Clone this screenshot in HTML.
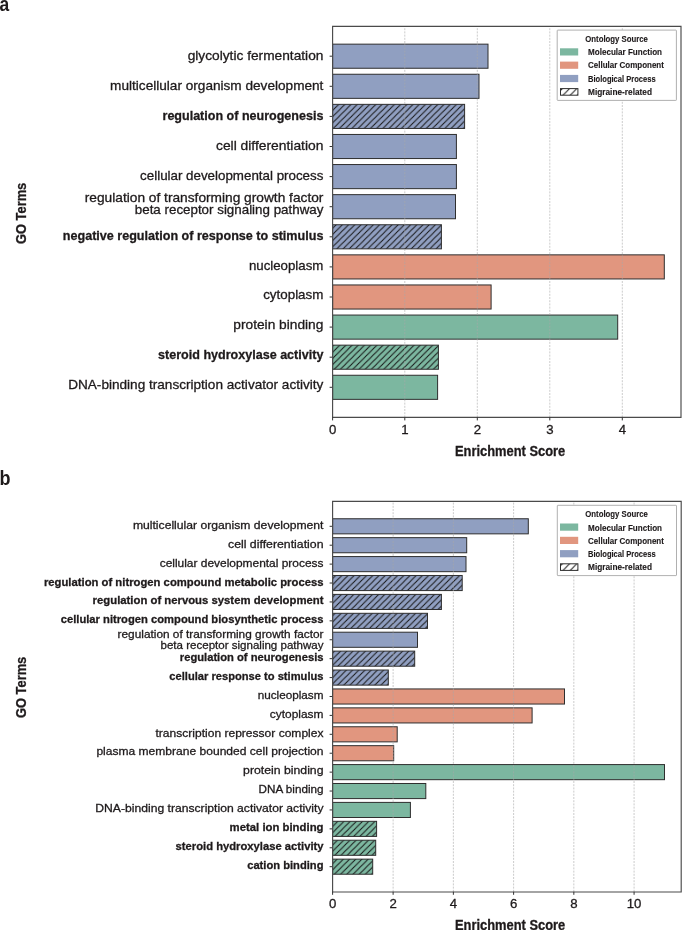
<!DOCTYPE html><html><head><meta charset="utf-8"><style>html,body{margin:0;padding:0;background:#fff;}svg{display:block;will-change:transform;}text{font-family:"Liberation Sans",sans-serif;fill:#1e1a1b;stroke:#1e1a1b;stroke-width:0.3px;}</style></head><body>
<svg width="685" height="930" viewBox="0 0 685 930">
<defs><pattern id="hatch" patternUnits="userSpaceOnUse" width="6.2" height="6.2" patternTransform="translate(2.9,0)"><path d="M-1,1 L1,-1 M0,6.2 L6.2,0 M5.2,7.2 L7.2,5.2" stroke="#141414" stroke-width="1.0"/></pattern><pattern id="hatchB" patternUnits="userSpaceOnUse" width="6.2" height="6.2" patternTransform="translate(5.9,0)"><path d="M-1,1 L1,-1 M0,6.2 L6.2,0 M5.2,7.2 L7.2,5.2" stroke="#141414" stroke-width="1.0"/></pattern><pattern id="hatchL" patternUnits="userSpaceOnUse" width="7.2" height="7.2" patternTransform="translate(3.0,0)"><path d="M-1,1 L1,-1 M0,7.2 L7.2,0 M6.2,8.2 L8.2,6.2" stroke="#1a1a1a" stroke-width="1.0"/></pattern></defs>
<rect width="685" height="930" fill="#fff"/>
<text x="0" y="0" font-size="20.5" font-weight="700" style="stroke-width:0" transform="translate(-0.5,10.6) scale(0.85,1)">a</text>
<text x="0" y="0" font-size="20.5" font-weight="700" style="stroke-width:0" transform="translate(-0.5,484.8) scale(0.88,1)">b</text>
<rect x="332.60" y="44.15" width="155.40" height="24.10" fill="rgb(144,159,193)" stroke="none"/>
<rect x="332.60" y="44.15" width="155.40" height="24.10" fill="none" stroke="#2e2e2e" stroke-width="1.0"/>
<line x1="329.60" y1="56.20" x2="332.60" y2="56.20" stroke="#333" stroke-width="1.0"/>
<rect x="332.60" y="74.25" width="146.40" height="24.10" fill="rgb(144,159,193)" stroke="none"/>
<rect x="332.60" y="74.25" width="146.40" height="24.10" fill="none" stroke="#2e2e2e" stroke-width="1.0"/>
<line x1="329.60" y1="86.30" x2="332.60" y2="86.30" stroke="#333" stroke-width="1.0"/>
<rect x="332.60" y="104.35" width="132.00" height="24.10" fill="rgb(144,159,193)" stroke="none"/>
<rect x="332.60" y="104.35" width="132.00" height="24.10" fill="url(#hatch)" stroke="none"/>
<rect x="332.60" y="104.35" width="132.00" height="24.10" fill="none" stroke="#2e2e2e" stroke-width="1.0"/>
<line x1="329.60" y1="116.40" x2="332.60" y2="116.40" stroke="#333" stroke-width="1.0"/>
<rect x="332.60" y="134.45" width="123.80" height="24.10" fill="rgb(144,159,193)" stroke="none"/>
<rect x="332.60" y="134.45" width="123.80" height="24.10" fill="none" stroke="#2e2e2e" stroke-width="1.0"/>
<line x1="329.60" y1="146.50" x2="332.60" y2="146.50" stroke="#333" stroke-width="1.0"/>
<rect x="332.60" y="164.55" width="123.80" height="24.10" fill="rgb(144,159,193)" stroke="none"/>
<rect x="332.60" y="164.55" width="123.80" height="24.10" fill="none" stroke="#2e2e2e" stroke-width="1.0"/>
<line x1="329.60" y1="176.60" x2="332.60" y2="176.60" stroke="#333" stroke-width="1.0"/>
<rect x="332.60" y="194.65" width="122.90" height="24.10" fill="rgb(144,159,193)" stroke="none"/>
<rect x="332.60" y="194.65" width="122.90" height="24.10" fill="none" stroke="#2e2e2e" stroke-width="1.0"/>
<line x1="329.60" y1="206.70" x2="332.60" y2="206.70" stroke="#333" stroke-width="1.0"/>
<rect x="332.60" y="224.75" width="108.80" height="24.10" fill="rgb(144,159,193)" stroke="none"/>
<rect x="332.60" y="224.75" width="108.80" height="24.10" fill="url(#hatch)" stroke="none"/>
<rect x="332.60" y="224.75" width="108.80" height="24.10" fill="none" stroke="#2e2e2e" stroke-width="1.0"/>
<line x1="329.60" y1="236.80" x2="332.60" y2="236.80" stroke="#333" stroke-width="1.0"/>
<rect x="332.60" y="254.85" width="331.70" height="24.10" fill="rgb(225,150,127)" stroke="none"/>
<rect x="332.60" y="254.85" width="331.70" height="24.10" fill="none" stroke="#2e2e2e" stroke-width="1.0"/>
<line x1="329.60" y1="266.90" x2="332.60" y2="266.90" stroke="#333" stroke-width="1.0"/>
<rect x="332.60" y="284.95" width="158.50" height="24.10" fill="rgb(225,150,127)" stroke="none"/>
<rect x="332.60" y="284.95" width="158.50" height="24.10" fill="none" stroke="#2e2e2e" stroke-width="1.0"/>
<line x1="329.60" y1="297.00" x2="332.60" y2="297.00" stroke="#333" stroke-width="1.0"/>
<rect x="332.60" y="315.05" width="285.10" height="24.10" fill="rgb(124,183,160)" stroke="none"/>
<rect x="332.60" y="315.05" width="285.10" height="24.10" fill="none" stroke="#2e2e2e" stroke-width="1.0"/>
<line x1="329.60" y1="327.10" x2="332.60" y2="327.10" stroke="#333" stroke-width="1.0"/>
<rect x="332.60" y="345.15" width="105.80" height="24.10" fill="rgb(124,183,160)" stroke="none"/>
<rect x="332.60" y="345.15" width="105.80" height="24.10" fill="url(#hatch)" stroke="none"/>
<rect x="332.60" y="345.15" width="105.80" height="24.10" fill="none" stroke="#2e2e2e" stroke-width="1.0"/>
<line x1="329.60" y1="357.20" x2="332.60" y2="357.20" stroke="#333" stroke-width="1.0"/>
<rect x="332.60" y="375.25" width="105.00" height="24.10" fill="rgb(124,183,160)" stroke="none"/>
<rect x="332.60" y="375.25" width="105.00" height="24.10" fill="none" stroke="#2e2e2e" stroke-width="1.0"/>
<line x1="329.60" y1="387.30" x2="332.60" y2="387.30" stroke="#333" stroke-width="1.0"/>
<line x1="404.80" y1="417.40" x2="404.80" y2="26.40" stroke="#a8a8a8" stroke-opacity="0.75" stroke-width="0.8" stroke-dasharray="2.0,1.2"/>
<line x1="477.30" y1="417.40" x2="477.30" y2="26.40" stroke="#a8a8a8" stroke-opacity="0.75" stroke-width="0.8" stroke-dasharray="2.0,1.2"/>
<line x1="549.80" y1="417.40" x2="549.80" y2="26.40" stroke="#a8a8a8" stroke-opacity="0.75" stroke-width="0.8" stroke-dasharray="2.0,1.2"/>
<line x1="622.30" y1="417.40" x2="622.30" y2="26.40" stroke="#a8a8a8" stroke-opacity="0.75" stroke-width="0.8" stroke-dasharray="2.0,1.2"/>
<path d="M332.60,26.40 H681.00 V417.40 H332.60 Z" fill="none" stroke="#4a4a4a" stroke-width="1.15" stroke-linejoin="miter"/>
<line x1="332.60" y1="417.40" x2="332.60" y2="420.40" stroke="#333" stroke-width="1.0"/>
<text x="332.60" y="433.80" font-size="13.2" font-weight="400" text-anchor="middle">0</text>
<line x1="404.80" y1="417.40" x2="404.80" y2="420.40" stroke="#333" stroke-width="1.0"/>
<text x="404.80" y="433.80" font-size="13.2" font-weight="400" text-anchor="middle">1</text>
<line x1="477.30" y1="417.40" x2="477.30" y2="420.40" stroke="#333" stroke-width="1.0"/>
<text x="477.30" y="433.80" font-size="13.2" font-weight="400" text-anchor="middle">2</text>
<line x1="549.80" y1="417.40" x2="549.80" y2="420.40" stroke="#333" stroke-width="1.0"/>
<text x="549.80" y="433.80" font-size="13.2" font-weight="400" text-anchor="middle">3</text>
<line x1="622.30" y1="417.40" x2="622.30" y2="420.40" stroke="#333" stroke-width="1.0"/>
<text x="622.30" y="433.80" font-size="13.2" font-weight="400" text-anchor="middle">4</text>
<text x="187.70" y="59.80" font-size="13.2" font-weight="400" text-anchor="start" textLength="135.7" lengthAdjust="spacingAndGlyphs">glycolytic fermentation</text>
<text x="110.10" y="89.76" font-size="13.2" font-weight="400" text-anchor="start" textLength="213.3" lengthAdjust="spacingAndGlyphs">multicellular organism development</text>
<text x="162.50" y="119.72" font-size="13.2" font-weight="700" text-anchor="start" textLength="160.9" lengthAdjust="spacingAndGlyphs">regulation of neurogenesis</text>
<text x="216.00" y="149.68" font-size="13.2" font-weight="400" text-anchor="start" textLength="107.4" lengthAdjust="spacingAndGlyphs">cell differentiation</text>
<text x="140.10" y="179.64" font-size="13.2" font-weight="400" text-anchor="start" textLength="183.3" lengthAdjust="spacingAndGlyphs">cellular developmental process</text>
<text x="84.80" y="201.70" font-size="13.2" font-weight="400" text-anchor="start" textLength="238.6" lengthAdjust="spacingAndGlyphs">regulation of transforming growth factor</text>
<text x="134.80" y="213.70" font-size="13.2" font-weight="400" text-anchor="start" textLength="188.6" lengthAdjust="spacingAndGlyphs">beta receptor signaling pathway</text>
<text x="62.80" y="239.56" font-size="13.2" font-weight="700" text-anchor="start" textLength="260.6" lengthAdjust="spacingAndGlyphs">negative regulation of response to stimulus</text>
<text x="248.90" y="269.52" font-size="13.2" font-weight="400" text-anchor="start" textLength="74.5" lengthAdjust="spacingAndGlyphs">nucleoplasm</text>
<text x="263.20" y="299.48" font-size="13.2" font-weight="400" text-anchor="start" textLength="60.2" lengthAdjust="spacingAndGlyphs">cytoplasm</text>
<text x="233.30" y="329.44" font-size="13.2" font-weight="400" text-anchor="start" textLength="90.1" lengthAdjust="spacingAndGlyphs">protein binding</text>
<text x="158.10" y="359.40" font-size="13.2" font-weight="700" text-anchor="start" textLength="165.3" lengthAdjust="spacingAndGlyphs">steroid hydroxylase activity</text>
<text x="68.20" y="389.36" font-size="13.2" font-weight="400" text-anchor="start" textLength="255.2" lengthAdjust="spacingAndGlyphs">DNA-binding transcription activator activity</text>
<text x="455.00" y="455.50" font-size="14" font-weight="700" text-anchor="start" textLength="110.2" lengthAdjust="spacingAndGlyphs">Enrichment Score</text>
<text x="0" y="0" font-size="14" font-weight="700" text-anchor="middle" textLength="61.3" lengthAdjust="spacingAndGlyphs" transform="translate(25.6,213.4) rotate(-90)">GO Terms</text>
<rect x="557.20" y="30.10" width="119.2" height="70.3" rx="0.6" fill="#fff" stroke="#9c9c9c" stroke-width="0.8"/>
<text x="585.30" y="42.00" font-size="8.6" font-weight="700" text-anchor="start" textLength="62.6" lengthAdjust="spacingAndGlyphs" style="stroke-width:0.12px">Ontology Source</text>
<rect x="560" y="48.30" width="18.2" height="7.2" fill="rgb(124,183,160)"/>
<text x="588.00" y="55.30" font-size="8.6" font-weight="700" text-anchor="start" textLength="74.0" lengthAdjust="spacingAndGlyphs" style="stroke-width:0.12px">Molecular Function</text>
<rect x="560" y="61.60" width="18.2" height="7.2" fill="rgb(225,150,127)"/>
<text x="588.00" y="68.40" font-size="8.6" font-weight="700" text-anchor="start" textLength="75.9" lengthAdjust="spacingAndGlyphs" style="stroke-width:0.12px">Cellular Component</text>
<rect x="560" y="74.90" width="18.2" height="7.2" fill="rgb(144,159,193)"/>
<text x="588.00" y="81.50" font-size="8.6" font-weight="700" text-anchor="start" textLength="67.6" lengthAdjust="spacingAndGlyphs" style="stroke-width:0.12px">Biological Process</text>
<rect x="560.5" y="88.60" width="17.4" height="6.6" fill="url(#hatchL)" stroke="#2e2e2e" stroke-width="1"/>
<text x="588.00" y="94.60" font-size="8.6" font-weight="700" text-anchor="start" textLength="64.0" lengthAdjust="spacingAndGlyphs" style="stroke-width:0.12px">Migraine-related</text>
<rect x="332.60" y="518.75" width="195.70" height="15.10" fill="rgb(144,159,193)" stroke="none"/>
<rect x="332.60" y="518.75" width="195.70" height="15.10" fill="none" stroke="#2e2e2e" stroke-width="1.0"/>
<line x1="329.60" y1="526.30" x2="332.60" y2="526.30" stroke="#333" stroke-width="1.0"/>
<rect x="332.60" y="537.66" width="134.10" height="15.10" fill="rgb(144,159,193)" stroke="none"/>
<rect x="332.60" y="537.66" width="134.10" height="15.10" fill="none" stroke="#2e2e2e" stroke-width="1.0"/>
<line x1="329.60" y1="545.21" x2="332.60" y2="545.21" stroke="#333" stroke-width="1.0"/>
<rect x="332.60" y="556.57" width="133.40" height="15.10" fill="rgb(144,159,193)" stroke="none"/>
<rect x="332.60" y="556.57" width="133.40" height="15.10" fill="none" stroke="#2e2e2e" stroke-width="1.0"/>
<line x1="329.60" y1="564.12" x2="332.60" y2="564.12" stroke="#333" stroke-width="1.0"/>
<rect x="332.60" y="575.48" width="129.60" height="15.10" fill="rgb(144,159,193)" stroke="none"/>
<rect x="332.60" y="575.48" width="129.60" height="15.10" fill="url(#hatchB)" stroke="none"/>
<rect x="332.60" y="575.48" width="129.60" height="15.10" fill="none" stroke="#2e2e2e" stroke-width="1.0"/>
<line x1="329.60" y1="583.03" x2="332.60" y2="583.03" stroke="#333" stroke-width="1.0"/>
<rect x="332.60" y="594.39" width="108.80" height="15.10" fill="rgb(144,159,193)" stroke="none"/>
<rect x="332.60" y="594.39" width="108.80" height="15.10" fill="url(#hatchB)" stroke="none"/>
<rect x="332.60" y="594.39" width="108.80" height="15.10" fill="none" stroke="#2e2e2e" stroke-width="1.0"/>
<line x1="329.60" y1="601.94" x2="332.60" y2="601.94" stroke="#333" stroke-width="1.0"/>
<rect x="332.60" y="613.30" width="94.90" height="15.10" fill="rgb(144,159,193)" stroke="none"/>
<rect x="332.60" y="613.30" width="94.90" height="15.10" fill="url(#hatchB)" stroke="none"/>
<rect x="332.60" y="613.30" width="94.90" height="15.10" fill="none" stroke="#2e2e2e" stroke-width="1.0"/>
<line x1="329.60" y1="620.85" x2="332.60" y2="620.85" stroke="#333" stroke-width="1.0"/>
<rect x="332.60" y="632.21" width="84.90" height="15.10" fill="rgb(144,159,193)" stroke="none"/>
<rect x="332.60" y="632.21" width="84.90" height="15.10" fill="none" stroke="#2e2e2e" stroke-width="1.0"/>
<line x1="329.60" y1="639.76" x2="332.60" y2="639.76" stroke="#333" stroke-width="1.0"/>
<rect x="332.60" y="651.12" width="82.10" height="15.10" fill="rgb(144,159,193)" stroke="none"/>
<rect x="332.60" y="651.12" width="82.10" height="15.10" fill="url(#hatchB)" stroke="none"/>
<rect x="332.60" y="651.12" width="82.10" height="15.10" fill="none" stroke="#2e2e2e" stroke-width="1.0"/>
<line x1="329.60" y1="658.67" x2="332.60" y2="658.67" stroke="#333" stroke-width="1.0"/>
<rect x="332.60" y="670.03" width="55.70" height="15.10" fill="rgb(144,159,193)" stroke="none"/>
<rect x="332.60" y="670.03" width="55.70" height="15.10" fill="url(#hatchB)" stroke="none"/>
<rect x="332.60" y="670.03" width="55.70" height="15.10" fill="none" stroke="#2e2e2e" stroke-width="1.0"/>
<line x1="329.60" y1="677.58" x2="332.60" y2="677.58" stroke="#333" stroke-width="1.0"/>
<rect x="332.60" y="688.94" width="231.90" height="15.10" fill="rgb(225,150,127)" stroke="none"/>
<rect x="332.60" y="688.94" width="231.90" height="15.10" fill="none" stroke="#2e2e2e" stroke-width="1.0"/>
<line x1="329.60" y1="696.49" x2="332.60" y2="696.49" stroke="#333" stroke-width="1.0"/>
<rect x="332.60" y="707.85" width="199.50" height="15.10" fill="rgb(225,150,127)" stroke="none"/>
<rect x="332.60" y="707.85" width="199.50" height="15.10" fill="none" stroke="#2e2e2e" stroke-width="1.0"/>
<line x1="329.60" y1="715.40" x2="332.60" y2="715.40" stroke="#333" stroke-width="1.0"/>
<rect x="332.60" y="726.76" width="64.60" height="15.10" fill="rgb(225,150,127)" stroke="none"/>
<rect x="332.60" y="726.76" width="64.60" height="15.10" fill="none" stroke="#2e2e2e" stroke-width="1.0"/>
<line x1="329.60" y1="734.31" x2="332.60" y2="734.31" stroke="#333" stroke-width="1.0"/>
<rect x="332.60" y="745.67" width="61.10" height="15.10" fill="rgb(225,150,127)" stroke="none"/>
<rect x="332.60" y="745.67" width="61.10" height="15.10" fill="none" stroke="#2e2e2e" stroke-width="1.0"/>
<line x1="329.60" y1="753.22" x2="332.60" y2="753.22" stroke="#333" stroke-width="1.0"/>
<rect x="332.60" y="764.58" width="331.90" height="15.10" fill="rgb(124,183,160)" stroke="none"/>
<rect x="332.60" y="764.58" width="331.90" height="15.10" fill="none" stroke="#2e2e2e" stroke-width="1.0"/>
<line x1="329.60" y1="772.13" x2="332.60" y2="772.13" stroke="#333" stroke-width="1.0"/>
<rect x="332.60" y="783.49" width="93.20" height="15.10" fill="rgb(124,183,160)" stroke="none"/>
<rect x="332.60" y="783.49" width="93.20" height="15.10" fill="none" stroke="#2e2e2e" stroke-width="1.0"/>
<line x1="329.60" y1="791.04" x2="332.60" y2="791.04" stroke="#333" stroke-width="1.0"/>
<rect x="332.60" y="802.40" width="77.80" height="15.10" fill="rgb(124,183,160)" stroke="none"/>
<rect x="332.60" y="802.40" width="77.80" height="15.10" fill="none" stroke="#2e2e2e" stroke-width="1.0"/>
<line x1="329.60" y1="809.95" x2="332.60" y2="809.95" stroke="#333" stroke-width="1.0"/>
<rect x="332.60" y="821.31" width="44.00" height="15.10" fill="rgb(124,183,160)" stroke="none"/>
<rect x="332.60" y="821.31" width="44.00" height="15.10" fill="url(#hatchB)" stroke="none"/>
<rect x="332.60" y="821.31" width="44.00" height="15.10" fill="none" stroke="#2e2e2e" stroke-width="1.0"/>
<line x1="329.60" y1="828.86" x2="332.60" y2="828.86" stroke="#333" stroke-width="1.0"/>
<rect x="332.60" y="840.22" width="43.10" height="15.10" fill="rgb(124,183,160)" stroke="none"/>
<rect x="332.60" y="840.22" width="43.10" height="15.10" fill="url(#hatchB)" stroke="none"/>
<rect x="332.60" y="840.22" width="43.10" height="15.10" fill="none" stroke="#2e2e2e" stroke-width="1.0"/>
<line x1="329.60" y1="847.77" x2="332.60" y2="847.77" stroke="#333" stroke-width="1.0"/>
<rect x="332.60" y="859.13" width="40.10" height="15.10" fill="rgb(124,183,160)" stroke="none"/>
<rect x="332.60" y="859.13" width="40.10" height="15.10" fill="url(#hatchB)" stroke="none"/>
<rect x="332.60" y="859.13" width="40.10" height="15.10" fill="none" stroke="#2e2e2e" stroke-width="1.0"/>
<line x1="329.60" y1="866.68" x2="332.60" y2="866.68" stroke="#333" stroke-width="1.0"/>
<line x1="393.12" y1="891.80" x2="393.12" y2="501.30" stroke="#a8a8a8" stroke-opacity="0.75" stroke-width="0.8" stroke-dasharray="2.0,1.2"/>
<line x1="453.36" y1="891.80" x2="453.36" y2="501.30" stroke="#a8a8a8" stroke-opacity="0.75" stroke-width="0.8" stroke-dasharray="2.0,1.2"/>
<line x1="513.60" y1="891.80" x2="513.60" y2="501.30" stroke="#a8a8a8" stroke-opacity="0.75" stroke-width="0.8" stroke-dasharray="2.0,1.2"/>
<line x1="573.84" y1="891.80" x2="573.84" y2="501.30" stroke="#a8a8a8" stroke-opacity="0.75" stroke-width="0.8" stroke-dasharray="2.0,1.2"/>
<line x1="634.08" y1="891.80" x2="634.08" y2="501.30" stroke="#a8a8a8" stroke-opacity="0.75" stroke-width="0.8" stroke-dasharray="2.0,1.2"/>
<path d="M332.60,501.30 H681.20 V892.00 H332.60 Z" fill="none" stroke="#4a4a4a" stroke-width="1.15" stroke-linejoin="miter"/>
<line x1="332.60" y1="891.80" x2="332.60" y2="894.80" stroke="#333" stroke-width="1.0"/>
<text x="332.60" y="908.40" font-size="13.2" font-weight="400" text-anchor="middle">0</text>
<line x1="393.12" y1="891.80" x2="393.12" y2="894.80" stroke="#333" stroke-width="1.0"/>
<text x="393.12" y="908.40" font-size="13.2" font-weight="400" text-anchor="middle">2</text>
<line x1="453.36" y1="891.80" x2="453.36" y2="894.80" stroke="#333" stroke-width="1.0"/>
<text x="453.36" y="908.40" font-size="13.2" font-weight="400" text-anchor="middle">4</text>
<line x1="513.60" y1="891.80" x2="513.60" y2="894.80" stroke="#333" stroke-width="1.0"/>
<text x="513.60" y="908.40" font-size="13.2" font-weight="400" text-anchor="middle">6</text>
<line x1="573.84" y1="891.80" x2="573.84" y2="894.80" stroke="#333" stroke-width="1.0"/>
<text x="573.84" y="908.40" font-size="13.2" font-weight="400" text-anchor="middle">8</text>
<line x1="634.08" y1="891.80" x2="634.08" y2="894.80" stroke="#333" stroke-width="1.0"/>
<text x="634.08" y="908.40" font-size="13.2" font-weight="400" text-anchor="middle">10</text>
<text x="132.90" y="528.90" font-size="11.8" font-weight="400" text-anchor="start" textLength="190.6" lengthAdjust="spacingAndGlyphs">multicellular organism development</text>
<text x="228.00" y="547.78" font-size="11.8" font-weight="400" text-anchor="start" textLength="95.5" lengthAdjust="spacingAndGlyphs">cell differentiation</text>
<text x="159.70" y="566.66" font-size="11.8" font-weight="400" text-anchor="start" textLength="163.8" lengthAdjust="spacingAndGlyphs">cellular developmental process</text>
<text x="43.90" y="585.54" font-size="11.8" font-weight="700" text-anchor="start" textLength="279.6" lengthAdjust="spacingAndGlyphs">regulation of nitrogen compound metabolic process</text>
<text x="92.60" y="604.42" font-size="11.8" font-weight="700" text-anchor="start" textLength="230.9" lengthAdjust="spacingAndGlyphs">regulation of nervous system development</text>
<text x="60.70" y="623.30" font-size="11.8" font-weight="700" text-anchor="start" textLength="262.8" lengthAdjust="spacingAndGlyphs">cellular nitrogen compound biosynthetic process</text>
<text x="117.60" y="637.80" font-size="11.8" font-weight="400" text-anchor="start" textLength="205.9" lengthAdjust="spacingAndGlyphs">regulation of transforming growth factor</text>
<text x="160.50" y="648.60" font-size="11.8" font-weight="400" text-anchor="start" textLength="163.0" lengthAdjust="spacingAndGlyphs">beta receptor signaling pathway</text>
<text x="179.80" y="661.06" font-size="11.8" font-weight="700" text-anchor="start" textLength="143.7" lengthAdjust="spacingAndGlyphs">regulation of neurogenesis</text>
<text x="169.30" y="679.94" font-size="11.8" font-weight="700" text-anchor="start" textLength="154.2" lengthAdjust="spacingAndGlyphs">cellular response to stimulus</text>
<text x="257.70" y="698.82" font-size="11.8" font-weight="400" text-anchor="start" textLength="65.8" lengthAdjust="spacingAndGlyphs">nucleoplasm</text>
<text x="269.80" y="717.70" font-size="11.8" font-weight="400" text-anchor="start" textLength="53.7" lengthAdjust="spacingAndGlyphs">cytoplasm</text>
<text x="155.50" y="736.58" font-size="11.8" font-weight="400" text-anchor="start" textLength="168.0" lengthAdjust="spacingAndGlyphs">transcription repressor complex</text>
<text x="96.40" y="755.46" font-size="11.8" font-weight="400" text-anchor="start" textLength="227.1" lengthAdjust="spacingAndGlyphs">plasma membrane bounded cell projection</text>
<text x="243.10" y="774.34" font-size="11.8" font-weight="400" text-anchor="start" textLength="80.4" lengthAdjust="spacingAndGlyphs">protein binding</text>
<text x="258.50" y="793.22" font-size="11.8" font-weight="400" text-anchor="start" textLength="65.0" lengthAdjust="spacingAndGlyphs">DNA binding</text>
<text x="95.30" y="812.10" font-size="11.8" font-weight="400" text-anchor="start" textLength="228.2" lengthAdjust="spacingAndGlyphs">DNA-binding transcription activator activity</text>
<text x="229.60" y="830.98" font-size="11.8" font-weight="700" text-anchor="start" textLength="93.9" lengthAdjust="spacingAndGlyphs">metal ion binding</text>
<text x="175.60" y="849.86" font-size="11.8" font-weight="700" text-anchor="start" textLength="147.9" lengthAdjust="spacingAndGlyphs">steroid hydroxylase activity</text>
<text x="247.20" y="868.74" font-size="11.8" font-weight="700" text-anchor="start" textLength="76.3" lengthAdjust="spacingAndGlyphs">cation binding</text>
<text x="455.00" y="929.90" font-size="14" font-weight="700" text-anchor="start" textLength="110.2" lengthAdjust="spacingAndGlyphs">Enrichment Score</text>
<text x="0" y="0" font-size="14" font-weight="700" text-anchor="middle" textLength="61.3" lengthAdjust="spacingAndGlyphs" transform="translate(26.0,687.4) rotate(-90)">GO Terms</text>
<rect x="557.30" y="505.30" width="119.2" height="70.3" rx="0.6" fill="#fff" stroke="#9c9c9c" stroke-width="0.8"/>
<text x="585.30" y="517.20" font-size="8.6" font-weight="700" text-anchor="start" textLength="62.6" lengthAdjust="spacingAndGlyphs" style="stroke-width:0.12px">Ontology Source</text>
<rect x="560" y="523.50" width="18.2" height="7.2" fill="rgb(124,183,160)"/>
<text x="588.00" y="530.50" font-size="8.6" font-weight="700" text-anchor="start" textLength="74.0" lengthAdjust="spacingAndGlyphs" style="stroke-width:0.12px">Molecular Function</text>
<rect x="560" y="536.80" width="18.2" height="7.2" fill="rgb(225,150,127)"/>
<text x="588.00" y="543.60" font-size="8.6" font-weight="700" text-anchor="start" textLength="75.9" lengthAdjust="spacingAndGlyphs" style="stroke-width:0.12px">Cellular Component</text>
<rect x="560" y="550.10" width="18.2" height="7.2" fill="rgb(144,159,193)"/>
<text x="588.00" y="556.70" font-size="8.6" font-weight="700" text-anchor="start" textLength="67.6" lengthAdjust="spacingAndGlyphs" style="stroke-width:0.12px">Biological Process</text>
<rect x="560.5" y="563.80" width="17.4" height="6.6" fill="url(#hatchL)" stroke="#2e2e2e" stroke-width="1"/>
<text x="588.00" y="569.80" font-size="8.6" font-weight="700" text-anchor="start" textLength="64.0" lengthAdjust="spacingAndGlyphs" style="stroke-width:0.12px">Migraine-related</text>
</svg></body></html>
